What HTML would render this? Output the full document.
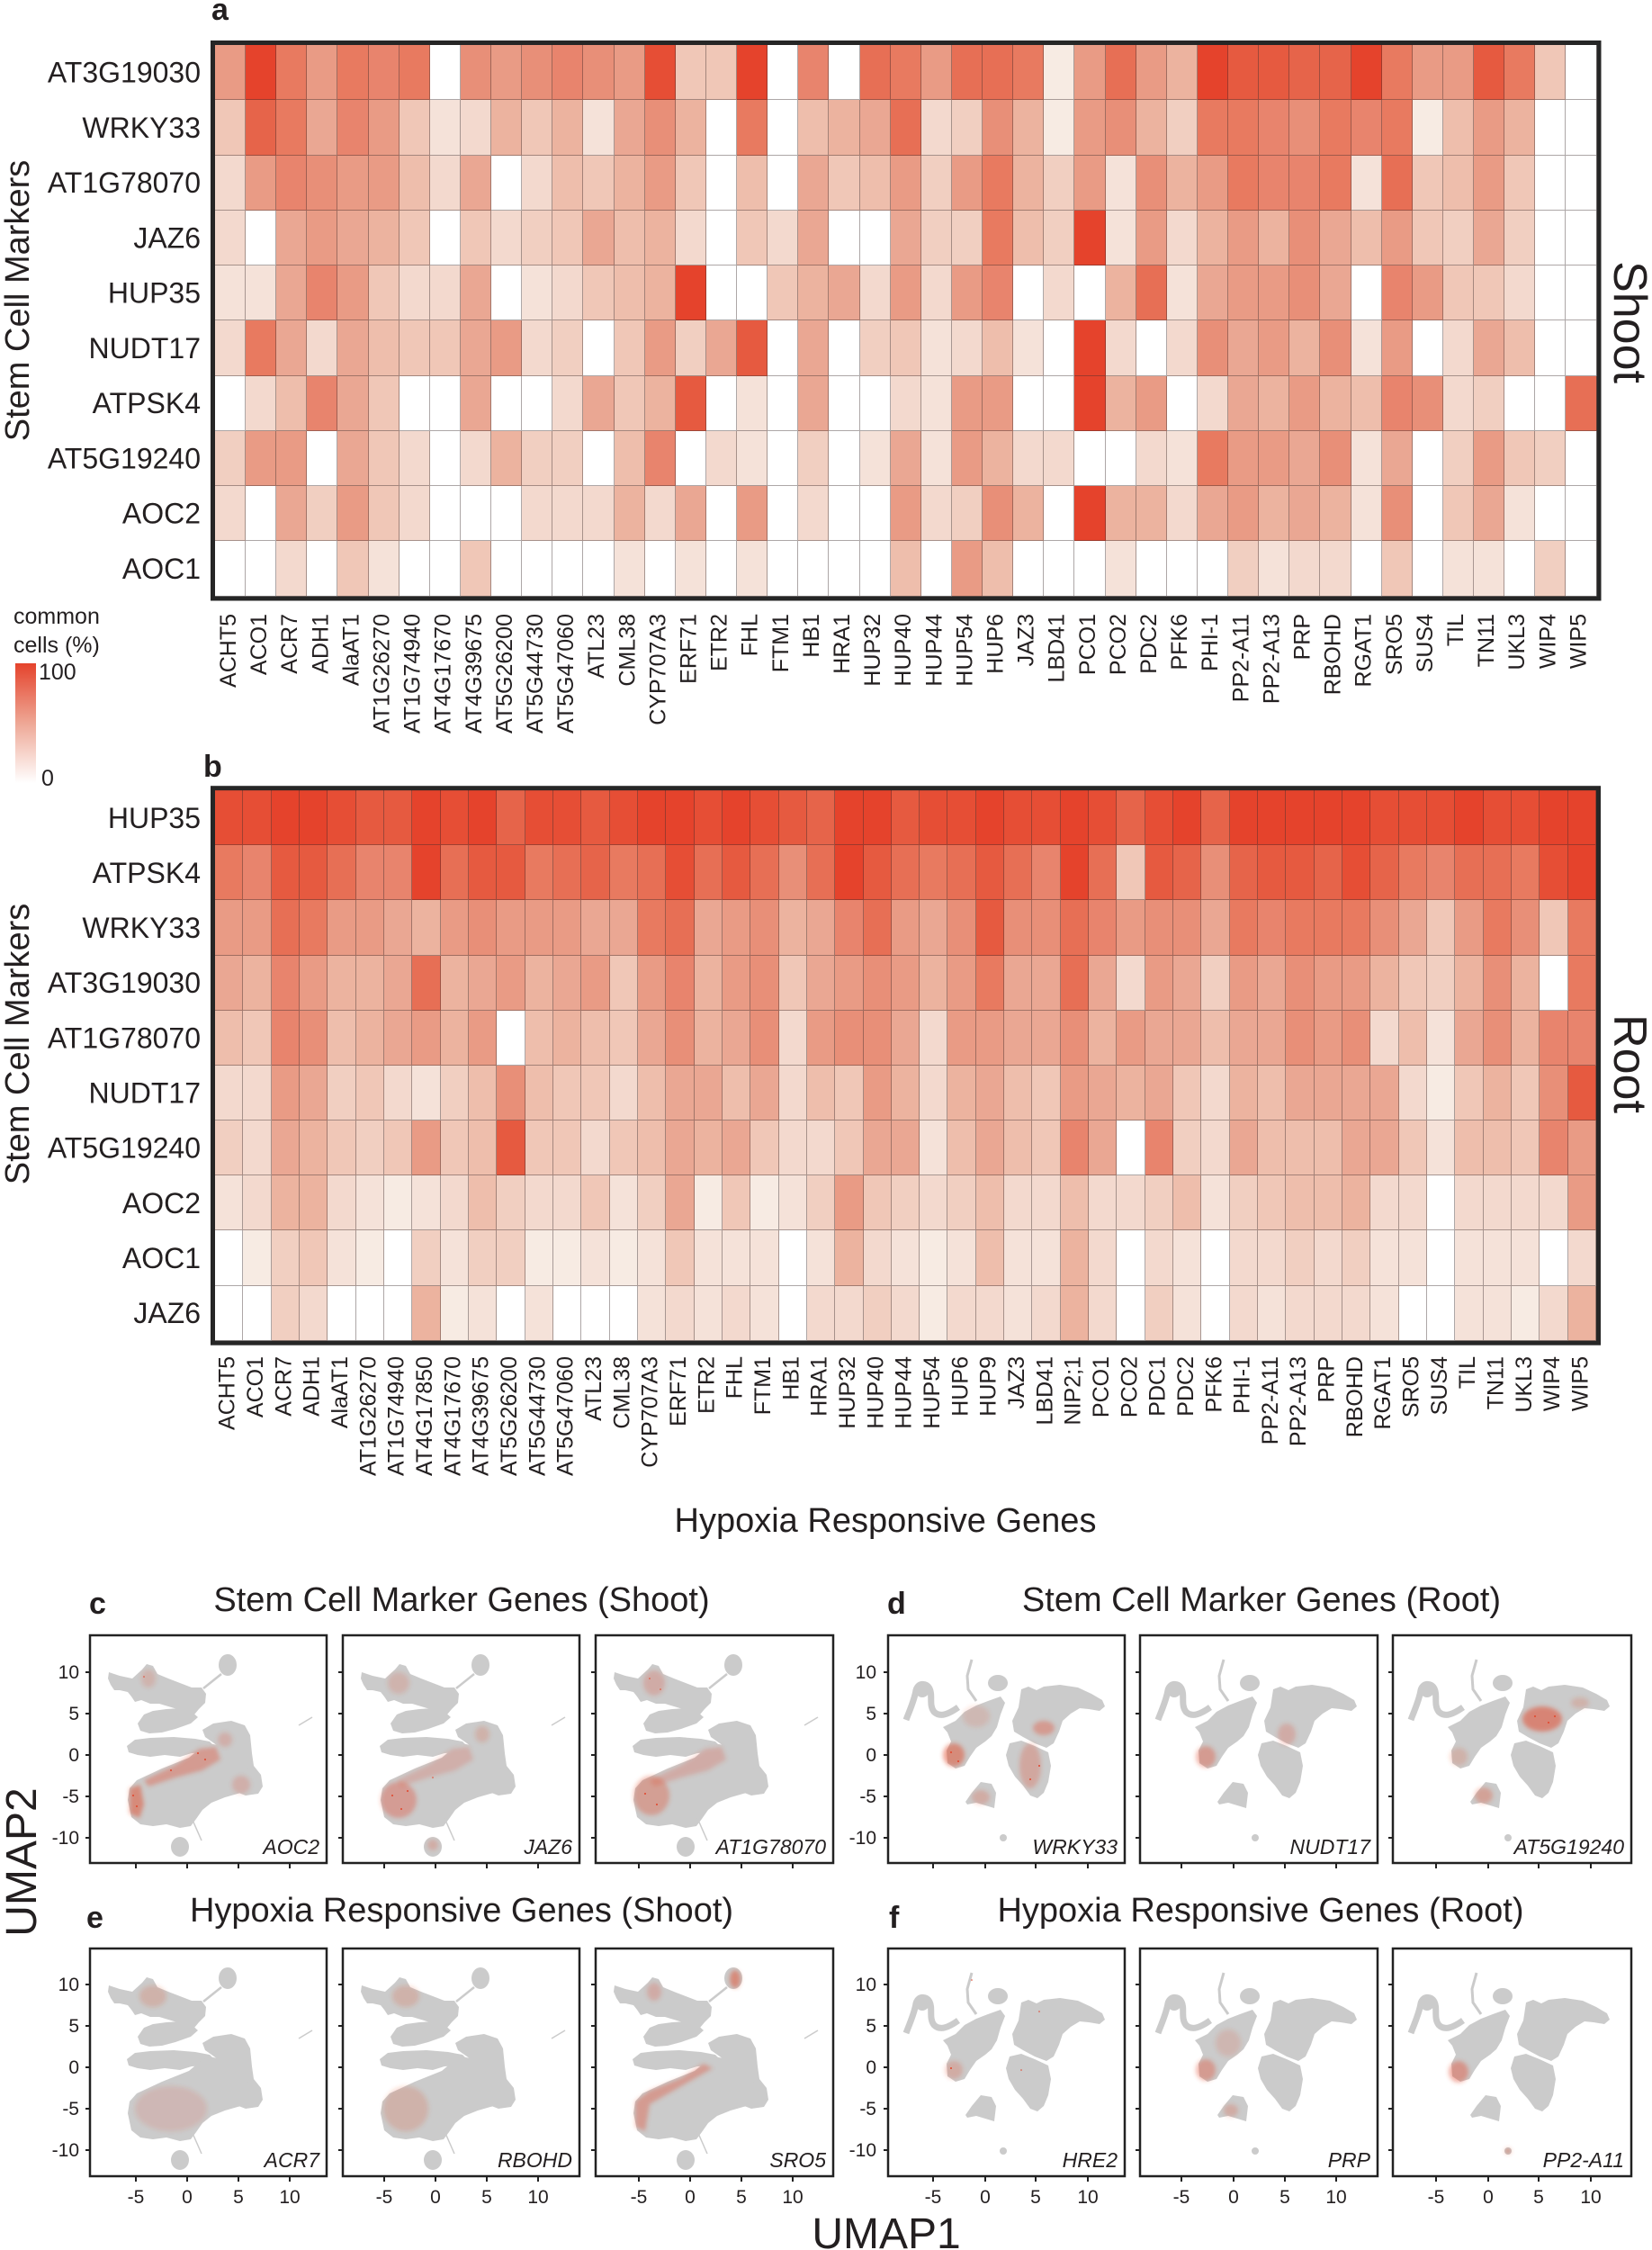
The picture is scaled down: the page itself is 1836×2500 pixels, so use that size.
<!DOCTYPE html>
<html><head><meta charset="utf-8"><style>
html,body{margin:0;padding:0;background:#fff}
#wrap{position:relative;width:1836px;height:2500px;overflow:hidden;background:#fff}
.hm{position:absolute;display:grid}
#ha{left:239px;top:50px;width:1535.5px;height:612.5px;grid-template-columns:repeat(45,1fr);grid-template-rows:repeat(10,1fr)}
#hb{left:239px;top:878.2px;width:1535px;height:611.5px;grid-template-columns:repeat(49,1fr);grid-template-rows:repeat(10,1fr)}
.hm i{display:block;border-right:1px solid rgba(60,45,45,.42);border-bottom:1px solid rgba(60,45,45,.42)}
.k0{background:#FFFFFF}.k1{background:#FBF3EF}.k2{background:#F7EBE3}.k3{background:#F5E2D9}.k4{background:#F3D9CE}.k5{background:#F1CFC1}.k6{background:#F0C7B7}.k7{background:#EEBEAC}.k8{background:#ECB39F}.k9{background:#EAA793}.k10{background:#E99B85}.k11{background:#E88F78}.k12{background:#E8846D}.k13{background:#E87A60}.k14{background:#E76F55}.k15{background:#E6644A}.k16{background:#E65A40}.k17{background:#E64E35}.k18{background:#E5432C}
svg{position:absolute;left:0;top:0}
</style></head><body><div id="wrap">
<div class="hm" id="ha">
<i class=k10></i><i class=k18></i><i class=k13></i><i class=k10></i><i class=k13></i><i class=k12></i><i class=k13></i><i class=k0></i><i class=k11></i><i class=k10></i><i class=k11></i><i class=k12></i><i class=k11></i><i class=k10></i><i class=k17></i><i class=k6></i><i class=k6></i><i class=k18></i><i class=k0></i><i class=k12></i><i class=k0></i><i class=k14></i><i class=k13></i><i class=k10></i><i class=k14></i><i class=k14></i><i class=k13></i><i class=k2></i><i class=k10></i><i class=k14></i><i class=k10></i><i class=k8></i><i class=k18></i><i class=k16></i><i class=k16></i><i class=k15></i><i class=k15></i><i class=k18></i><i class=k13></i><i class=k10></i><i class=k10></i><i class=k16></i><i class=k13></i><i class=k6></i><i class=k0></i>
<i class=k6></i><i class=k15></i><i class=k13></i><i class=k9></i><i class=k12></i><i class=k10></i><i class=k6></i><i class=k3></i><i class=k4></i><i class=k8></i><i class=k6></i><i class=k8></i><i class=k3></i><i class=k9></i><i class=k11></i><i class=k8></i><i class=k0></i><i class=k13></i><i class=k0></i><i class=k7></i><i class=k8></i><i class=k9></i><i class=k14></i><i class=k4></i><i class=k5></i><i class=k11></i><i class=k8></i><i class=k2></i><i class=k10></i><i class=k11></i><i class=k8></i><i class=k5></i><i class=k13></i><i class=k13></i><i class=k12></i><i class=k11></i><i class=k13></i><i class=k12></i><i class=k13></i><i class=k2></i><i class=k7></i><i class=k10></i><i class=k8></i><i class=k0></i><i class=k0></i>
<i class=k4></i><i class=k10></i><i class=k12></i><i class=k11></i><i class=k10></i><i class=k10></i><i class=k7></i><i class=k4></i><i class=k9></i><i class=k0></i><i class=k4></i><i class=k7></i><i class=k6></i><i class=k8></i><i class=k10></i><i class=k6></i><i class=k0></i><i class=k7></i><i class=k0></i><i class=k9></i><i class=k6></i><i class=k7></i><i class=k10></i><i class=k5></i><i class=k10></i><i class=k13></i><i class=k8></i><i class=k5></i><i class=k10></i><i class=k3></i><i class=k11></i><i class=k8></i><i class=k10></i><i class=k13></i><i class=k12></i><i class=k12></i><i class=k13></i><i class=k3></i><i class=k14></i><i class=k6></i><i class=k7></i><i class=k10></i><i class=k6></i><i class=k0></i><i class=k0></i>
<i class=k4></i><i class=k0></i><i class=k9></i><i class=k10></i><i class=k9></i><i class=k8></i><i class=k6></i><i class=k0></i><i class=k6></i><i class=k4></i><i class=k5></i><i class=k6></i><i class=k9></i><i class=k7></i><i class=k8></i><i class=k4></i><i class=k0></i><i class=k6></i><i class=k4></i><i class=k9></i><i class=k0></i><i class=k0></i><i class=k9></i><i class=k5></i><i class=k5></i><i class=k13></i><i class=k7></i><i class=k5></i><i class=k18></i><i class=k3></i><i class=k10></i><i class=k4></i><i class=k8></i><i class=k10></i><i class=k8></i><i class=k11></i><i class=k9></i><i class=k7></i><i class=k10></i><i class=k6></i><i class=k5></i><i class=k9></i><i class=k5></i><i class=k0></i><i class=k0></i>
<i class=k3></i><i class=k3></i><i class=k9></i><i class=k12></i><i class=k10></i><i class=k6></i><i class=k4></i><i class=k4></i><i class=k9></i><i class=k0></i><i class=k3></i><i class=k4></i><i class=k6></i><i class=k7></i><i class=k8></i><i class=k18></i><i class=k0></i><i class=k0></i><i class=k6></i><i class=k8></i><i class=k9></i><i class=k4></i><i class=k10></i><i class=k4></i><i class=k10></i><i class=k12></i><i class=k0></i><i class=k4></i><i class=k0></i><i class=k8></i><i class=k14></i><i class=k3></i><i class=k9></i><i class=k10></i><i class=k10></i><i class=k11></i><i class=k9></i><i class=k0></i><i class=k12></i><i class=k10></i><i class=k6></i><i class=k6></i><i class=k4></i><i class=k0></i><i class=k0></i>
<i class=k4></i><i class=k13></i><i class=k9></i><i class=k4></i><i class=k9></i><i class=k7></i><i class=k6></i><i class=k6></i><i class=k9></i><i class=k10></i><i class=k4></i><i class=k5></i><i class=k0></i><i class=k6></i><i class=k10></i><i class=k5></i><i class=k9></i><i class=k16></i><i class=k0></i><i class=k9></i><i class=k0></i><i class=k5></i><i class=k6></i><i class=k3></i><i class=k4></i><i class=k7></i><i class=k3></i><i class=k0></i><i class=k18></i><i class=k4></i><i class=k0></i><i class=k4></i><i class=k11></i><i class=k9></i><i class=k10></i><i class=k8></i><i class=k11></i><i class=k3></i><i class=k10></i><i class=k0></i><i class=k4></i><i class=k9></i><i class=k7></i><i class=k0></i><i class=k0></i>
<i class=k0></i><i class=k4></i><i class=k7></i><i class=k12></i><i class=k9></i><i class=k6></i><i class=k0></i><i class=k0></i><i class=k9></i><i class=k0></i><i class=k0></i><i class=k4></i><i class=k9></i><i class=k6></i><i class=k8></i><i class=k16></i><i class=k0></i><i class=k3></i><i class=k0></i><i class=k9></i><i class=k0></i><i class=k0></i><i class=k4></i><i class=k3></i><i class=k10></i><i class=k10></i><i class=k0></i><i class=k0></i><i class=k18></i><i class=k8></i><i class=k10></i><i class=k0></i><i class=k4></i><i class=k9></i><i class=k8></i><i class=k10></i><i class=k8></i><i class=k7></i><i class=k12></i><i class=k11></i><i class=k4></i><i class=k5></i><i class=k0></i><i class=k0></i><i class=k14></i>
<i class=k5></i><i class=k10></i><i class=k10></i><i class=k0></i><i class=k9></i><i class=k6></i><i class=k4></i><i class=k0></i><i class=k4></i><i class=k8></i><i class=k5></i><i class=k5></i><i class=k0></i><i class=k7></i><i class=k12></i><i class=k0></i><i class=k4></i><i class=k3></i><i class=k0></i><i class=k5></i><i class=k0></i><i class=k3></i><i class=k9></i><i class=k3></i><i class=k10></i><i class=k8></i><i class=k4></i><i class=k4></i><i class=k0></i><i class=k0></i><i class=k4></i><i class=k3></i><i class=k13></i><i class=k10></i><i class=k10></i><i class=k9></i><i class=k11></i><i class=k3></i><i class=k9></i><i class=k0></i><i class=k5></i><i class=k10></i><i class=k6></i><i class=k5></i><i class=k0></i>
<i class=k4></i><i class=k0></i><i class=k9></i><i class=k5></i><i class=k10></i><i class=k6></i><i class=k4></i><i class=k0></i><i class=k0></i><i class=k0></i><i class=k4></i><i class=k4></i><i class=k4></i><i class=k8></i><i class=k4></i><i class=k9></i><i class=k0></i><i class=k10></i><i class=k0></i><i class=k4></i><i class=k0></i><i class=k0></i><i class=k10></i><i class=k4></i><i class=k5></i><i class=k11></i><i class=k8></i><i class=k0></i><i class=k18></i><i class=k8></i><i class=k8></i><i class=k4></i><i class=k9></i><i class=k10></i><i class=k8></i><i class=k9></i><i class=k8></i><i class=k3></i><i class=k11></i><i class=k0></i><i class=k6></i><i class=k9></i><i class=k3></i><i class=k0></i><i class=k0></i>
<i class=k0></i><i class=k0></i><i class=k4></i><i class=k0></i><i class=k6></i><i class=k3></i><i class=k0></i><i class=k0></i><i class=k6></i><i class=k0></i><i class=k0></i><i class=k0></i><i class=k0></i><i class=k3></i><i class=k0></i><i class=k3></i><i class=k0></i><i class=k3></i><i class=k0></i><i class=k0></i><i class=k0></i><i class=k0></i><i class=k7></i><i class=k0></i><i class=k10></i><i class=k7></i><i class=k0></i><i class=k0></i><i class=k0></i><i class=k3></i><i class=k0></i><i class=k0></i><i class=k0></i><i class=k5></i><i class=k3></i><i class=k4></i><i class=k4></i><i class=k0></i><i class=k6></i><i class=k0></i><i class=k3></i><i class=k3></i><i class=k0></i><i class=k5></i><i class=k0></i>
</div>
<div class="hm" id="hb">
<i class=k17></i><i class=k17></i><i class=k18></i><i class=k18></i><i class=k17></i><i class=k16></i><i class=k16></i><i class=k18></i><i class=k17></i><i class=k18></i><i class=k15></i><i class=k17></i><i class=k17></i><i class=k16></i><i class=k17></i><i class=k18></i><i class=k18></i><i class=k17></i><i class=k18></i><i class=k17></i><i class=k16></i><i class=k15></i><i class=k18></i><i class=k18></i><i class=k16></i><i class=k17></i><i class=k17></i><i class=k18></i><i class=k17></i><i class=k17></i><i class=k18></i><i class=k17></i><i class=k15></i><i class=k17></i><i class=k18></i><i class=k15></i><i class=k18></i><i class=k18></i><i class=k18></i><i class=k18></i><i class=k18></i><i class=k17></i><i class=k17></i><i class=k17></i><i class=k18></i><i class=k17></i><i class=k17></i><i class=k18></i><i class=k18></i>
<i class=k13></i><i class=k12></i><i class=k16></i><i class=k16></i><i class=k14></i><i class=k12></i><i class=k12></i><i class=k18></i><i class=k14></i><i class=k16></i><i class=k16></i><i class=k13></i><i class=k14></i><i class=k15></i><i class=k13></i><i class=k14></i><i class=k17></i><i class=k14></i><i class=k16></i><i class=k14></i><i class=k11></i><i class=k14></i><i class=k18></i><i class=k16></i><i class=k14></i><i class=k13></i><i class=k14></i><i class=k16></i><i class=k14></i><i class=k12></i><i class=k18></i><i class=k14></i><i class=k6></i><i class=k16></i><i class=k15></i><i class=k11></i><i class=k15></i><i class=k16></i><i class=k16></i><i class=k15></i><i class=k17></i><i class=k15></i><i class=k13></i><i class=k12></i><i class=k14></i><i class=k14></i><i class=k13></i><i class=k17></i><i class=k18></i>
<i class=k10></i><i class=k10></i><i class=k14></i><i class=k13></i><i class=k10></i><i class=k10></i><i class=k9></i><i class=k8></i><i class=k10></i><i class=k11></i><i class=k10></i><i class=k10></i><i class=k10></i><i class=k9></i><i class=k9></i><i class=k13></i><i class=k14></i><i class=k9></i><i class=k10></i><i class=k11></i><i class=k8></i><i class=k9></i><i class=k12></i><i class=k14></i><i class=k10></i><i class=k9></i><i class=k11></i><i class=k16></i><i class=k11></i><i class=k11></i><i class=k14></i><i class=k12></i><i class=k10></i><i class=k11></i><i class=k11></i><i class=k9></i><i class=k13></i><i class=k12></i><i class=k13></i><i class=k13></i><i class=k13></i><i class=k11></i><i class=k9></i><i class=k6></i><i class=k10></i><i class=k13></i><i class=k11></i><i class=k6></i><i class=k13></i>
<i class=k9></i><i class=k8></i><i class=k12></i><i class=k10></i><i class=k8></i><i class=k8></i><i class=k9></i><i class=k14></i><i class=k8></i><i class=k9></i><i class=k10></i><i class=k8></i><i class=k9></i><i class=k10></i><i class=k6></i><i class=k10></i><i class=k12></i><i class=k8></i><i class=k10></i><i class=k11></i><i class=k6></i><i class=k9></i><i class=k10></i><i class=k11></i><i class=k10></i><i class=k8></i><i class=k10></i><i class=k13></i><i class=k9></i><i class=k9></i><i class=k14></i><i class=k9></i><i class=k4></i><i class=k10></i><i class=k9></i><i class=k5></i><i class=k10></i><i class=k9></i><i class=k11></i><i class=k10></i><i class=k10></i><i class=k8></i><i class=k6></i><i class=k5></i><i class=k8></i><i class=k11></i><i class=k8></i><i class=k0></i><i class=k13></i>
<i class=k7></i><i class=k6></i><i class=k12></i><i class=k11></i><i class=k7></i><i class=k8></i><i class=k9></i><i class=k10></i><i class=k8></i><i class=k10></i><i class=k0></i><i class=k7></i><i class=k8></i><i class=k7></i><i class=k6></i><i class=k9></i><i class=k11></i><i class=k8></i><i class=k9></i><i class=k11></i><i class=k4></i><i class=k10></i><i class=k11></i><i class=k11></i><i class=k9></i><i class=k4></i><i class=k10></i><i class=k10></i><i class=k9></i><i class=k9></i><i class=k11></i><i class=k8></i><i class=k10></i><i class=k9></i><i class=k9></i><i class=k7></i><i class=k9></i><i class=k9></i><i class=k11></i><i class=k10></i><i class=k11></i><i class=k4></i><i class=k7></i><i class=k3></i><i class=k9></i><i class=k11></i><i class=k8></i><i class=k12></i><i class=k12></i>
<i class=k4></i><i class=k4></i><i class=k10></i><i class=k9></i><i class=k5></i><i class=k6></i><i class=k4></i><i class=k3></i><i class=k5></i><i class=k7></i><i class=k11></i><i class=k7></i><i class=k6></i><i class=k6></i><i class=k4></i><i class=k7></i><i class=k9></i><i class=k9></i><i class=k7></i><i class=k9></i><i class=k4></i><i class=k7></i><i class=k6></i><i class=k10></i><i class=k8></i><i class=k4></i><i class=k8></i><i class=k9></i><i class=k7></i><i class=k6></i><i class=k10></i><i class=k9></i><i class=k8></i><i class=k9></i><i class=k6></i><i class=k4></i><i class=k8></i><i class=k7></i><i class=k9></i><i class=k9></i><i class=k9></i><i class=k9></i><i class=k4></i><i class=k2></i><i class=k6></i><i class=k8></i><i class=k6></i><i class=k11></i><i class=k16></i>
<i class=k5></i><i class=k4></i><i class=k9></i><i class=k8></i><i class=k6></i><i class=k5></i><i class=k6></i><i class=k10></i><i class=k6></i><i class=k7></i><i class=k16></i><i class=k6></i><i class=k6></i><i class=k4></i><i class=k6></i><i class=k7></i><i class=k9></i><i class=k8></i><i class=k9></i><i class=k6></i><i class=k4></i><i class=k4></i><i class=k6></i><i class=k9></i><i class=k9></i><i class=k3></i><i class=k7></i><i class=k9></i><i class=k7></i><i class=k6></i><i class=k12></i><i class=k9></i><i class=k0></i><i class=k12></i><i class=k5></i><i class=k4></i><i class=k9></i><i class=k7></i><i class=k7></i><i class=k7></i><i class=k9></i><i class=k9></i><i class=k6></i><i class=k3></i><i class=k7></i><i class=k7></i><i class=k6></i><i class=k12></i><i class=k10></i>
<i class=k3></i><i class=k4></i><i class=k8></i><i class=k8></i><i class=k4></i><i class=k3></i><i class=k2></i><i class=k3></i><i class=k4></i><i class=k7></i><i class=k5></i><i class=k4></i><i class=k4></i><i class=k6></i><i class=k3></i><i class=k5></i><i class=k9></i><i class=k2></i><i class=k6></i><i class=k2></i><i class=k3></i><i class=k5></i><i class=k10></i><i class=k6></i><i class=k5></i><i class=k4></i><i class=k5></i><i class=k7></i><i class=k4></i><i class=k4></i><i class=k7></i><i class=k4></i><i class=k4></i><i class=k5></i><i class=k7></i><i class=k3></i><i class=k5></i><i class=k6></i><i class=k7></i><i class=k7></i><i class=k8></i><i class=k4></i><i class=k4></i><i class=k0></i><i class=k4></i><i class=k4></i><i class=k4></i><i class=k4></i><i class=k10></i>
<i class=k0></i><i class=k2></i><i class=k5></i><i class=k6></i><i class=k3></i><i class=k2></i><i class=k0></i><i class=k5></i><i class=k3></i><i class=k5></i><i class=k5></i><i class=k2></i><i class=k2></i><i class=k3></i><i class=k2></i><i class=k3></i><i class=k6></i><i class=k3></i><i class=k3></i><i class=k3></i><i class=k0></i><i class=k3></i><i class=k8></i><i class=k4></i><i class=k3></i><i class=k2></i><i class=k3></i><i class=k7></i><i class=k3></i><i class=k3></i><i class=k8></i><i class=k4></i><i class=k0></i><i class=k4></i><i class=k3></i><i class=k0></i><i class=k4></i><i class=k4></i><i class=k5></i><i class=k4></i><i class=k5></i><i class=k3></i><i class=k3></i><i class=k0></i><i class=k3></i><i class=k3></i><i class=k3></i><i class=k0></i><i class=k4></i>
<i class=k0></i><i class=k0></i><i class=k5></i><i class=k4></i><i class=k0></i><i class=k0></i><i class=k0></i><i class=k8></i><i class=k2></i><i class=k3></i><i class=k0></i><i class=k3></i><i class=k0></i><i class=k0></i><i class=k0></i><i class=k3></i><i class=k4></i><i class=k3></i><i class=k4></i><i class=k3></i><i class=k0></i><i class=k4></i><i class=k4></i><i class=k5></i><i class=k4></i><i class=k2></i><i class=k4></i><i class=k4></i><i class=k3></i><i class=k4></i><i class=k8></i><i class=k4></i><i class=k0></i><i class=k5></i><i class=k3></i><i class=k0></i><i class=k4></i><i class=k3></i><i class=k4></i><i class=k4></i><i class=k4></i><i class=k3></i><i class=k0></i><i class=k0></i><i class=k3></i><i class=k3></i><i class=k2></i><i class=k4></i><i class=k8></i>
</div>
<svg width="1836" height="2500" viewBox="0 0 1836 2500" font-family="Liberation Sans, Arial, sans-serif" fill="#231f20">
<defs>
<linearGradient id="lg" x1="0" y1="0" x2="0" y2="1"><stop offset="0" stop-color="#E5432C"/><stop offset="0.5" stop-color="#EEA795"/><stop offset="1" stop-color="#FFFFFF"/></linearGradient>
<filter id="bl" x="-20%" y="-20%" width="140%" height="140%"><feGaussianBlur stdDeviation="2.5"/></filter>
<g id="shoot" fill="#CBCBCB">
<path d="M21,43 L33,47 L47,50 L58,40 L63,34 L70,36 L75,45 L87,50 L100,55 L113,60 L124,60 L129,67 L128,77 L121,84 L116,90 L108,88 L97,84 L87,81 L77,78 L67,78 L57,74 L50,76 L46,70 L42,65 L33,63 L27,63 L23,57 L20,50 Z"/>
<path d="M53,100 L60,90 L70,86 L85,84 L100,83 L112,86 L120,93 L112,100 L95,106 L80,110 L66,111 L56,108 Z"/>
<ellipse cx="153" cy="35" rx="10" ry="12"/>
<path d="M41,125 L50,118 L67,116 L93,115 L117,117 L133,120 L140,127 L130,132 L113,133 L100,137 L83,135 L67,137 L53,135 L43,132 Z"/>
<path d="M125,107 L137,100 L157,97 L172,102 L178,113 L180,133 L182,147 L190,157 L192,170 L187,178 L173,180 L160,175 L150,165 L143,150 L148,130 L138,122 L128,115 Z"/>
<path d="M42,185 L44,172 L52,163 L65,157 L80,150 L95,144 L110,138 L122,128 L132,122 L142,124 L155,132 L165,142 L175,150 L180,162 L176,175 L164,178 L150,182 L135,188 L125,196 L118,206 L112,214 L100,216 L85,212 L70,214 L56,212 L46,204 Z"/>
<ellipse cx="100" cy="237" rx="10" ry="11"/>
<path d="M126,61 L146,45" stroke="#CBCBCB" stroke-width="2.5" fill="none"/>
<path d="M113,205 L124,230" stroke="#CBCBCB" stroke-width="1.5" fill="none"/>
<path d="M232,102 L247,93" stroke="#CBCBCB" stroke-width="1.5" fill="none"/>
</g>
<g id="root" fill="#CBCBCB">
<path d="M22,99 C26,88 31,78 33,66 C35,58 44,57 48,64 C52,72 47,82 53,90 C60,97 70,92 80,85" fill="none" stroke="#CBCBCB" stroke-width="7"/>
<ellipse cx="40" cy="66" rx="8" ry="8"/>
<path d="M63,107 L77,100 L87,90 L100,83 L113,78 L127,73 L132,80 L127,93 L123,107 L117,117 L110,123 L100,130 L93,140 L87,150 L77,153 L68,147 L67,133 L72,123 L68,113 Z"/>
<path d="M95,32 L90,50 L91,65 L100,78" fill="none" stroke="#CBCBCB" stroke-width="3"/>
<ellipse cx="124" cy="58" rx="11" ry="9"/>
<path d="M140,100 L147,85 L150,65 L158,62 L167,66 L175,62 L193,60 L213,63 L228,70 L240,77 L243,84 L237,89 L225,87 L215,86 L205,92 L196,100 L192,112 L186,125 L178,130 L165,125 L152,118 L142,112 Z"/>
<path d="M137,125 L150,122 L165,128 L180,135 L183,150 L180,168 L175,180 L168,186 L160,183 L152,172 L143,162 L136,150 L133,138 Z"/>
<path d="M88,190 L95,180 L105,168 L117,170 L122,180 L120,197 L110,194 L100,191 L90,193 Z"/>
<circle cx="130" cy="230" r="4"/>
</g>
</defs>

<!-- heatmap frames -->
<rect x="236.5" y="47.5" width="1540.5" height="617.5" fill="none" stroke="#262626" stroke-width="5"/>
<rect x="236.5" y="875.7" width="1540" height="616.5" fill="none" stroke="#262626" stroke-width="5"/>

<text x="235" y="22" font-size="34" font-weight="bold">a</text>
<text x="226" y="863" font-size="34" font-weight="bold">b</text>

<g font-size="32" text-anchor="end">
<text x="223" y="91.6">AT3G19030</text>
<text x="223" y="152.9">WRKY33</text>
<text x="223" y="214.1">AT1G78070</text>
<text x="223" y="275.4">JAZ6</text>
<text x="223" y="336.6">HUP35</text>
<text x="223" y="397.9">NUDT17</text>
<text x="223" y="459.1">ATPSK4</text>
<text x="223" y="520.4">AT5G19240</text>
<text x="223" y="581.6">AOC2</text>
<text x="223" y="642.9">AOC1</text>
<text x="223" y="919.8">HUP35</text>
<text x="223" y="980.9">ATPSK4</text>
<text x="223" y="1042.1">WRKY33</text>
<text x="223" y="1103.2">AT3G19030</text>
<text x="223" y="1164.4">AT1G78070</text>
<text x="223" y="1225.5">NUDT17</text>
<text x="223" y="1286.7">AT5G19240</text>
<text x="223" y="1347.8">AOC2</text>
<text x="223" y="1409.0">AOC1</text>
<text x="223" y="1470.1">JAZ6</text>
</g>

<text transform="translate(32,334) rotate(-90)" text-anchor="middle" font-size="38">Stem Cell Markers</text>
<text transform="translate(32,1160) rotate(-90)" text-anchor="middle" font-size="38">Stem Cell Markers</text>
<text transform="translate(1794,358) rotate(90)" text-anchor="middle" font-size="52">Shoot</text>
<text transform="translate(1794,1182) rotate(90)" text-anchor="middle" font-size="52">Root</text>

<!-- legend -->
<text x="15" y="693" font-size="25">common</text>
<text x="15" y="725" font-size="25">cells (%)</text>
<rect x="17" y="737" width="23" height="133" fill="url(#lg)"/>
<text x="43" y="755" font-size="25">100</text>
<text x="46" y="873" font-size="25">0</text>

<!-- x labels a -->
<g font-size="25" text-anchor="end">
<text transform="translate(262,682) rotate(-90)">ACHT5</text>
<text transform="translate(296.1,682) rotate(-90)">ACO1</text>
<text transform="translate(330.2,682) rotate(-90)">ACR7</text>
<text transform="translate(364.3,682) rotate(-90)">ADH1</text>
<text transform="translate(398.4,682) rotate(-90)">AlaAT1</text>
<text transform="translate(432.5,682) rotate(-90)">AT1G26270</text>
<text transform="translate(466.6,682) rotate(-90)">AT1G74940</text>
<text transform="translate(500.7,682) rotate(-90)">AT4G17670</text>
<text transform="translate(534.8,682) rotate(-90)">AT4G39675</text>
<text transform="translate(568.9,682) rotate(-90)">AT5G26200</text>
<text transform="translate(603,682) rotate(-90)">AT5G44730</text>
<text transform="translate(637.1,682) rotate(-90)">AT5G47060</text>
<text transform="translate(671.2,682) rotate(-90)">ATL23</text>
<text transform="translate(705.3,682) rotate(-90)">CML38</text>
<text transform="translate(739.4,682) rotate(-90)">CYP707A3</text>
<text transform="translate(773.5,682) rotate(-90)">ERF71</text>
<text transform="translate(807.6,682) rotate(-90)">ETR2</text>
<text transform="translate(841.7,682) rotate(-90)">FHL</text>
<text transform="translate(875.8,682) rotate(-90)">FTM1</text>
<text transform="translate(909.9,682) rotate(-90)">HB1</text>
<text transform="translate(944,682) rotate(-90)">HRA1</text>
<text transform="translate(978.1,682) rotate(-90)">HUP32</text>
<text transform="translate(1012.2,682) rotate(-90)">HUP40</text>
<text transform="translate(1046.3,682) rotate(-90)">HUP44</text>
<text transform="translate(1080.4,682) rotate(-90)">HUP54</text>
<text transform="translate(1114.5,682) rotate(-90)">HUP6</text>
<text transform="translate(1148.6,682) rotate(-90)">JAZ3</text>
<text transform="translate(1182.7,682) rotate(-90)">LBD41</text>
<text transform="translate(1216.8,682) rotate(-90)">PCO1</text>
<text transform="translate(1250.9,682) rotate(-90)">PCO2</text>
<text transform="translate(1285,682) rotate(-90)">PDC2</text>
<text transform="translate(1319.1,682) rotate(-90)">PFK6</text>
<text transform="translate(1353.2,682) rotate(-90)">PHI-1</text>
<text transform="translate(1387.3,682) rotate(-90)">PP2-A11</text>
<text transform="translate(1421.4,682) rotate(-90)">PP2-A13</text>
<text transform="translate(1455.5,682) rotate(-90)">PRP</text>
<text transform="translate(1489.6,682) rotate(-90)">RBOHD</text>
<text transform="translate(1523.7,682) rotate(-90)">RGAT1</text>
<text transform="translate(1557.8,682) rotate(-90)">SRO5</text>
<text transform="translate(1591.9,682) rotate(-90)">SUS4</text>
<text transform="translate(1626,682) rotate(-90)">TIL</text>
<text transform="translate(1660.1,682) rotate(-90)">TN11</text>
<text transform="translate(1694.2,682) rotate(-90)">UKL3</text>
<text transform="translate(1728.3,682) rotate(-90)">WIP4</text>
<text transform="translate(1762.4,682) rotate(-90)">WIP5</text>
</g>

<!-- x labels b -->
<g font-size="25" text-anchor="end">
<text transform="translate(260.7,1507) rotate(-90)">ACHT5</text>
<text transform="translate(292,1507) rotate(-90)">ACO1</text>
<text transform="translate(323.3,1507) rotate(-90)">ACR7</text>
<text transform="translate(354.7,1507) rotate(-90)">ADH1</text>
<text transform="translate(386,1507) rotate(-90)">AlaAT1</text>
<text transform="translate(417.4,1507) rotate(-90)">AT1G26270</text>
<text transform="translate(448.7,1507) rotate(-90)">AT1G74940</text>
<text transform="translate(480,1507) rotate(-90)">AT4G17850</text>
<text transform="translate(511.3,1507) rotate(-90)">AT4G17670</text>
<text transform="translate(542.7,1507) rotate(-90)">AT4G39675</text>
<text transform="translate(574,1507) rotate(-90)">AT5G26200</text>
<text transform="translate(605.3,1507) rotate(-90)">AT5G44730</text>
<text transform="translate(636.7,1507) rotate(-90)">AT5G47060</text>
<text transform="translate(668,1507) rotate(-90)">ATL23</text>
<text transform="translate(699.3,1507) rotate(-90)">CML38</text>
<text transform="translate(730.7,1507) rotate(-90)">CYP707A3</text>
<text transform="translate(762,1507) rotate(-90)">ERF71</text>
<text transform="translate(793.3,1507) rotate(-90)">ETR2</text>
<text transform="translate(824.6,1507) rotate(-90)">FHL</text>
<text transform="translate(856,1507) rotate(-90)">FTM1</text>
<text transform="translate(887.3,1507) rotate(-90)">HB1</text>
<text transform="translate(918.6,1507) rotate(-90)">HRA1</text>
<text transform="translate(950,1507) rotate(-90)">HUP32</text>
<text transform="translate(981.3,1507) rotate(-90)">HUP40</text>
<text transform="translate(1012.6,1507) rotate(-90)">HUP44</text>
<text transform="translate(1044,1507) rotate(-90)">HUP54</text>
<text transform="translate(1075.3,1507) rotate(-90)">HUP6</text>
<text transform="translate(1106.6,1507) rotate(-90)">HUP9</text>
<text transform="translate(1137.9,1507) rotate(-90)">JAZ3</text>
<text transform="translate(1169.3,1507) rotate(-90)">LBD41</text>
<text transform="translate(1200.6,1507) rotate(-90)">NIP2;1</text>
<text transform="translate(1231.9,1507) rotate(-90)">PCO1</text>
<text transform="translate(1263.3,1507) rotate(-90)">PCO2</text>
<text transform="translate(1294.6,1507) rotate(-90)">PDC1</text>
<text transform="translate(1325.9,1507) rotate(-90)">PDC2</text>
<text transform="translate(1357.3,1507) rotate(-90)">PFK6</text>
<text transform="translate(1388.6,1507) rotate(-90)">PHI-1</text>
<text transform="translate(1419.9,1507) rotate(-90)">PP2-A11</text>
<text transform="translate(1451.2,1507) rotate(-90)">PP2-A13</text>
<text transform="translate(1482.6,1507) rotate(-90)">PRP</text>
<text transform="translate(1513.9,1507) rotate(-90)">RBOHD</text>
<text transform="translate(1545.2,1507) rotate(-90)">RGAT1</text>
<text transform="translate(1576.6,1507) rotate(-90)">SRO5</text>
<text transform="translate(1607.9,1507) rotate(-90)">SUS4</text>
<text transform="translate(1639.2,1507) rotate(-90)">TIL</text>
<text transform="translate(1670.6,1507) rotate(-90)">TN11</text>
<text transform="translate(1701.9,1507) rotate(-90)">UKL3</text>
<text transform="translate(1733.2,1507) rotate(-90)">WIP4</text>
<text transform="translate(1764.6,1507) rotate(-90)">WIP5</text>
</g>

<text x="984" y="1702" font-size="38" text-anchor="middle">Hypoxia Responsive Genes</text>

<!-- UMAP section titles -->
<text x="99" y="1793" font-size="34" font-weight="bold">c</text>
<text x="986" y="1793" font-size="34" font-weight="bold">d</text>
<text x="96" y="2142" font-size="34" font-weight="bold">e</text>
<text x="988" y="2142" font-size="34" font-weight="bold">f</text>
<g font-size="38" text-anchor="middle">
<text x="513" y="1790">Stem Cell Marker Genes (Shoot)</text>
<text x="1402" y="1790">Stem Cell Marker Genes (Root)</text>
<text x="513" y="2135">Hypoxia Responsive Genes (Shoot)</text>
<text x="1401" y="2135">Hypoxia Responsive Genes (Root)</text>
</g>

<!-- UMAP clouds -->
<use href="#shoot" x="100" y="1815"/>
<use href="#shoot" x="381" y="1815"/>
<use href="#shoot" x="662" y="1815"/>
<use href="#shoot" x="100" y="2163"/>
<use href="#shoot" x="381" y="2163"/>
<use href="#shoot" x="662" y="2163"/>
<use href="#root" x="985" y="1812"/>
<use href="#root" x="1265" y="1812"/>
<use href="#root" x="1546" y="1812"/>
<use href="#root" x="985" y="2160"/>
<use href="#root" x="1265" y="2160"/>
<use href="#root" x="1546" y="2160"/>

<!-- red overlays (blurred to mimic speckle density) -->
<g fill="#E24A2E" filter="url(#bl)">
<g transform="translate(100,1815)">
<path d="M44,200 L44,172 L56,168 L60,190 L55,205 Z" opacity=".5"/>
<path d="M60,163 L95,146 L122,128 L140,126 L145,140 L125,152 L95,160 L65,170 Z" opacity=".38"/>
<ellipse cx="168" cy="168" rx="10" ry="10" opacity=".22"/>
<ellipse cx="150" cy="118" rx="8" ry="8" opacity=".22"/>
<ellipse cx="65" cy="50" rx="8" ry="10" opacity=".18"/>
</g>
<g transform="translate(381,1815)">
<ellipse cx="62" cy="185" rx="20" ry="20" opacity=".36"/>
<path d="M60,163 L95,146 L122,128 L140,126 L145,140 L125,152 L95,160 L65,170 Z" opacity=".22"/>
<ellipse cx="62" cy="55" rx="12" ry="12" opacity=".18"/>
<ellipse cx="155" cy="112" rx="8" ry="9" opacity=".2"/>
<ellipse cx="100" cy="235" rx="6" ry="6" opacity=".25"/>
</g>
<g transform="translate(662,1815)">
<ellipse cx="62" cy="180" rx="20" ry="22" opacity=".34"/>
<path d="M60,163 L95,146 L122,128 L140,126 L145,140 L125,152 L95,160 L65,170 Z" opacity=".24"/>
<ellipse cx="65" cy="55" rx="12" ry="14" opacity=".24"/>
</g>
<g transform="translate(985,1812)">
<ellipse cx="75" cy="138" rx="12" ry="13" opacity=".5"/>
<ellipse cx="160" cy="150" rx="12" ry="25" opacity=".28"/>
<ellipse cx="175" cy="108" rx="12" ry="8" opacity=".38"/>
<ellipse cx="105" cy="185" rx="10" ry="8" opacity=".25"/>
<ellipse cx="100" cy="95" rx="15" ry="12" opacity=".15"/>
</g>
<g transform="translate(1265,1812)">
<ellipse cx="75" cy="140" rx="11" ry="12" opacity=".38"/>
<ellipse cx="165" cy="115" rx="10" ry="12" opacity=".24"/>
</g>
<g transform="translate(1546,1812)">
<ellipse cx="168" cy="98" rx="22" ry="14" opacity=".55"/>
<ellipse cx="75" cy="140" rx="10" ry="10" opacity=".2"/>
<ellipse cx="103" cy="183" rx="10" ry="9" opacity=".32"/>
<ellipse cx="210" cy="80" rx="10" ry="6" opacity=".2"/>
</g>
<g transform="translate(100,2163)">
<ellipse cx="90" cy="180" rx="40" ry="25" opacity=".14"/>
<ellipse cx="70" cy="55" rx="15" ry="12" opacity=".2"/>
</g>
<g transform="translate(381,2163)">
<ellipse cx="70" cy="180" rx="25" ry="25" opacity=".2"/>
<ellipse cx="70" cy="55" rx="15" ry="12" opacity=".2"/>
</g>
<g transform="translate(662,2163)">
<path d="M44,200 L44,172 L60,160 L95,146 L120,130 L130,135 L95,155 L60,175 L55,205 Z" opacity=".38"/>
<ellipse cx="155" cy="36" rx="6" ry="10" opacity=".5"/>
<ellipse cx="65" cy="50" rx="8" ry="10" opacity=".24"/>
</g>
<g transform="translate(985,2160)">
<ellipse cx="75" cy="140" rx="10" ry="10" opacity=".25"/>
</g>
<g transform="translate(1265,2160)">
<ellipse cx="75" cy="140" rx="11" ry="12" opacity=".38"/>
<ellipse cx="100" cy="110" rx="14" ry="15" opacity=".16"/>
<ellipse cx="103" cy="185" rx="8" ry="7" opacity=".25"/>
</g>
<g transform="translate(1546,2160)">
<ellipse cx="75" cy="142" rx="11" ry="12" opacity=".42"/>
<circle cx="130" cy="230" r="3" opacity=".5"/>
</g>
</g>

<!-- scattered red speckles -->
<g fill="#E2452B">
<g transform="translate(100,1815)"><circle cx="48" cy="180" r="1"/><circle cx="52" cy="192" r="1"/><circle cx="90" cy="152" r="1"/><circle cx="120" cy="133" r="1"/><circle cx="128" cy="140" r="1"/><circle cx="60" cy="48" r="0.8"/></g>
<g transform="translate(381,1815)"><circle cx="55" cy="180" r="1"/><circle cx="65" cy="195" r="1"/><circle cx="72" cy="175" r="1"/><circle cx="100" cy="160" r="0.8"/></g>
<g transform="translate(662,1815)"><circle cx="55" cy="178" r="1"/><circle cx="68" cy="190" r="1"/><circle cx="60" cy="50" r="0.8"/><circle cx="72" cy="62" r="0.8"/></g>
<g transform="translate(985,1812)"><circle cx="72" cy="135" r="1"/><circle cx="80" cy="145" r="1"/><circle cx="170" cy="150" r="1"/><circle cx="160" cy="165" r="1"/></g>
<g transform="translate(1546,1812)"><circle cx="160" cy="95" r="1"/><circle cx="175" cy="102" r="1"/><circle cx="182" cy="95" r="1"/></g>
<g transform="translate(985,2160)"><circle cx="72" cy="138" r="1"/><circle cx="150" cy="140" r="0.8"/><circle cx="170" cy="75" r="0.8"/><circle cx="95" cy="40" r="0.8"/></g>
</g>

<!-- panel boxes -->
<g fill="none" stroke="#222" stroke-width="2.5">
<rect x="100" y="1817" width="263" height="253"/>
<rect x="381" y="1817" width="263" height="253"/>
<rect x="662" y="1817" width="264" height="253"/>
<rect x="987" y="1817" width="263" height="253"/>
<rect x="1267" y="1817" width="264" height="253"/>
<rect x="1548" y="1817" width="265" height="253"/>
<rect x="100" y="2165" width="263" height="253"/>
<rect x="381" y="2165" width="263" height="253"/>
<rect x="662" y="2165" width="264" height="253"/>
<rect x="987" y="2165" width="263" height="253"/>
<rect x="1267" y="2165" width="264" height="253"/>
<rect x="1548" y="2165" width="265" height="253"/>
</g>

<!-- ticks -->
<g stroke="#222" stroke-width="2">
<path d="M95,1858H100M95,1904H100M95,1950H100M95,1996H100M95,2042H100"/>
<path d="M376,1858H381M376,1904H381M376,1950H381M376,1996H381M376,2042H381"/>
<path d="M657,1858H662M657,1904H662M657,1950H662M657,1996H662M657,2042H662"/>
<path d="M982,1858H987M982,1904H987M982,1950H987M982,1996H987M982,2042H987"/>
<path d="M1262,1858H1267M1262,1904H1267M1262,1950H1267M1262,1996H1267M1262,2042H1267"/>
<path d="M1543,1858H1548M1543,1904H1548M1543,1950H1548M1543,1996H1548M1543,2042H1548"/>
<path d="M95,2205H100M95,2251H100M95,2297H100M95,2343H100M95,2389H100"/>
<path d="M376,2205H381M376,2251H381M376,2297H381M376,2343H381M376,2389H381"/>
<path d="M657,2205H662M657,2251H662M657,2297H662M657,2343H662M657,2389H662"/>
<path d="M982,2205H987M982,2251H987M982,2297H987M982,2343H987M982,2389H987"/>
<path d="M1262,2205H1267M1262,2251H1267M1262,2297H1267M1262,2343H1267M1262,2389H1267"/>
<path d="M1543,2205H1548M1543,2251H1548M1543,2297H1548M1543,2343H1548M1543,2389H1548"/>
<path d="M151,2070V2076M208,2070V2076M265,2070V2076M322,2070V2076M427,2070V2076M484,2070V2076M541,2070V2076M598,2070V2076M710,2070V2076M767,2070V2076M824,2070V2076M881,2070V2076"/>
<path d="M1037,2070V2076M1095,2070V2076M1151,2070V2076M1209,2070V2076M1313,2070V2076M1371,2070V2076M1428,2070V2076M1485,2070V2076M1596,2070V2076M1654,2070V2076M1710,2070V2076M1768,2070V2076"/>
<path d="M151,2418V2424M208,2418V2424M265,2418V2424M322,2418V2424M427,2418V2424M484,2418V2424M541,2418V2424M598,2418V2424M710,2418V2424M767,2418V2424M824,2418V2424M881,2418V2424"/>
<path d="M1037,2418V2424M1095,2418V2424M1151,2418V2424M1209,2418V2424M1313,2418V2424M1371,2418V2424M1428,2418V2424M1485,2418V2424M1596,2418V2424M1654,2418V2424M1710,2418V2424M1768,2418V2424"/>
</g>

<!-- tick labels -->
<g font-size="21" text-anchor="end">
<text x="88" y="1865">10</text><text x="88" y="1911">5</text><text x="88" y="1957">0</text><text x="88" y="2003">-5</text><text x="88" y="2049">-10</text>
<text x="974" y="1865">10</text><text x="974" y="1911">5</text><text x="974" y="1957">0</text><text x="974" y="2003">-5</text><text x="974" y="2049">-10</text>
<text x="88" y="2212">10</text><text x="88" y="2258">5</text><text x="88" y="2304">0</text><text x="88" y="2350">-5</text><text x="88" y="2396">-10</text>
<text x="974" y="2212">10</text><text x="974" y="2258">5</text><text x="974" y="2304">0</text><text x="974" y="2350">-5</text><text x="974" y="2396">-10</text>
</g>
<g font-size="21" text-anchor="middle">
<text x="151" y="2448">-5</text><text x="208" y="2448">0</text><text x="265" y="2448">5</text><text x="322" y="2448">10</text>
<text x="427" y="2448">-5</text><text x="484" y="2448">0</text><text x="541" y="2448">5</text><text x="598" y="2448">10</text>
<text x="710" y="2448">-5</text><text x="767" y="2448">0</text><text x="824" y="2448">5</text><text x="881" y="2448">10</text>
<text x="1037" y="2448">-5</text><text x="1095" y="2448">0</text><text x="1151" y="2448">5</text><text x="1209" y="2448">10</text>
<text x="1313" y="2448">-5</text><text x="1371" y="2448">0</text><text x="1428" y="2448">5</text><text x="1485" y="2448">10</text>
<text x="1596" y="2448">-5</text><text x="1654" y="2448">0</text><text x="1710" y="2448">5</text><text x="1768" y="2448">10</text>
</g>

<!-- gene labels -->
<g font-size="23" font-style="italic" text-anchor="end">
<text x="355" y="2060">AOC2</text>
<text x="636" y="2060">JAZ6</text>
<text x="918" y="2060">AT1G78070</text>
<text x="1242" y="2060">WRKY33</text>
<text x="1523" y="2060">NUDT17</text>
<text x="1805" y="2060">AT5G19240</text>
<text x="355" y="2408">ACR7</text>
<text x="636" y="2408">RBOHD</text>
<text x="918" y="2408">SRO5</text>
<text x="1242" y="2408">HRE2</text>
<text x="1523" y="2408">PRP</text>
<text x="1805" y="2408">PP2-A11</text>
</g>

<text transform="translate(40,2069) rotate(-90)" text-anchor="middle" font-size="48">UMAP2</text>
<text x="985" y="2498" text-anchor="middle" font-size="48">UMAP1</text>
</svg>
</div></body></html>
